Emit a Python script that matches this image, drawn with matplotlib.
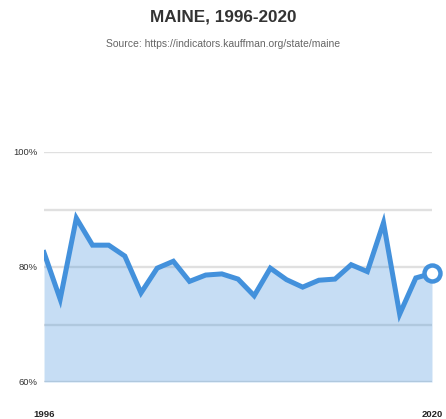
import matplotlib.pyplot as plt

# Maine, share of ... (percent)
years = list(range(1996, 2021))
values = [82.5, 74.4, 88.5, 83.8, 83.8, 81.9, 75.5, 79.8, 81.0, 77.5,
          78.6, 78.8, 77.9, 75.0, 79.8, 77.8, 76.5, 77.7, 77.9, 80.4,
          79.2, 87.7, 71.8, 78.1, 78.9]
grid_values = [60, 70, 80, 90, 100]
label_values = [60, 80, 100]
x_labels = ['1996', '2020']

blue = '#4391dc'
plt.rcParams['font.family'] = ['Liberation Sans', 'DejaVu Sans']

fig = plt.figure(figsize=(4.46, 4.19), dpi=100)
ax = fig.add_axes([0.0987, 0.0883, 0.8699, 0.5489])

# gridlines first, fill is translucent on top
for g in grid_values:
    ax.axhline(g, color='#e0e0e0', lw=1.7, zorder=1)

ax.fill_between(years, values, 60, color=blue, alpha=0.3, lw=0, zorder=2)
ax.plot(years, values, color=blue, lw=3.6, solid_joinstyle='miter', zorder=3)
ax.plot(years[-1], values[-1], 'o', ms=11.5, mfc='white', mec=blue, mew=3.2,
        zorder=4, clip_on=False)

ax.set_xlim(years[0], years[-1])
ax.set_ylim(60, 100)
ax.set_xticks([])
ax.set_yticks([])
for s in ax.spines.values():
    s.set_visible(False)

for v in label_values:
    ax.text(-0.016, v, f'{v}%', transform=ax.get_yaxis_transform(),
            ha='right', va='center', fontsize=6.8, color='#333333')

ax.text(years[0], -0.14, x_labels[0], transform=ax.get_xaxis_transform(),
        ha='center', va='center', fontsize=6.8, fontweight='bold', color='#222222')
ax.text(years[-1], -0.14, x_labels[1], transform=ax.get_xaxis_transform(),
        ha='center', va='center', fontsize=6.8, fontweight='bold', color='#222222')

fig.text(0.5, 1 - 17 / 419, 'MAINE, 1996-2020', ha='center', va='center',
         fontsize=12.3, fontweight='bold', color='#333333')
fig.text(0.5, 1 - 44 / 419, 'Source: https://indicators.kauffman.org/state/maine',
         ha='center', va='center', fontsize=7.5, color='#666666')

fig.savefig('out.png', dpi=100)
